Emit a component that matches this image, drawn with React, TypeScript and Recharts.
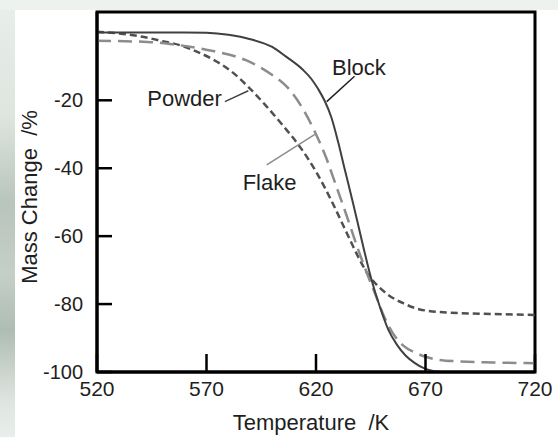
import {
  LineChart,
  Line,
  XAxis,
  YAxis,
  ReferenceArea,
  ReferenceLine,
  ReferenceDot,
} from "recharts";

// temperature (K) and mass change (%)
const blockTemp = [520, 560, 570, 580, 590, 600, 606, 614, 618, 621, 624, 627, 630, 633, 637, 641, 645, 649, 653, 657, 661, 665, 669, 673, 678];
const blockMass = [0, 0, -0.1, -0.7, -2, -4.3, -7, -11, -13.8, -16.7, -20.2, -25, -32, -40, -50.5, -61.5, -72, -80.5, -87.5, -92, -95.2, -97.3, -98.8, -99.6, -100];

const flakeTemp = [520, 543, 558, 573, 588, 599, 607, 614, 620, 625, 628, 634, 639, 643, 647, 651, 655, 660, 665, 670, 676, 686, 700, 720];
const flakeMass = [-2.5, -2.8, -3.8, -5.5, -8.2, -12.1, -16.2, -22.5, -30, -37.5, -43, -54, -63.5, -70.5, -77, -83.5, -88.5, -92.3, -94.2, -95.5, -96.4, -96.9, -97.2, -97.4];

const powderTemp = [520, 530, 540, 550, 558, 565, 573, 581, 589, 597, 605, 613, 620, 627, 634, 640, 644, 648, 653, 660, 667, 680, 700, 720];
const powderMass = [0.2, -0.3, -1.2, -2.6, -3.8, -5.5, -8, -11.3, -16, -21.5, -27.5, -34, -41, -49.5, -59, -67, -71.5, -74.5, -77.3, -79.8, -81.5, -82.5, -82.9, -83.2];

const xTicks = [520, 570, 620, 670, 720];
const yTicks = [-100, -80, -60, -40, -20];

const seriesLabels = [
  { name: "Block", temp: 639.6, mass: -10.2 },
  { name: "Powder", temp: 560, mass: -19.4 },
  { name: "Flake", temp: 598.8, mass: -44 },
];

const toPoints = (temps: number[], mass: number[]) =>
  temps.map((t, i) => ({ temp: t, mass: mass[i] }));

const FONT = "'Liberation Sans', Arial, sans-serif";

export default function App() {
  const block = toPoints(blockTemp, blockMass);
  const flake = toPoints(flakeTemp, flakeMass);
  const powder = toPoints(powderTemp, powderMass);

  return (
    <div
      style={{
        position: "absolute",
        left: 0,
        top: 0,
        width: 558,
        height: 437,
        overflow: "hidden",
        background: "#edf2ee",
        fontFamily: FONT,
      }}
    >
      {/* faded backdrop on the left edge */}
      <div
        style={{
          position: "absolute",
          left: 0,
          top: 10,
          width: 15,
          height: 427,
          background:
            "linear-gradient(180deg, #e8eeea 0%, #dde5df 25%, #b8c5bc 45%, #c4cfc7 62%, #aebdb3 75%, #dfe6e1 92%, #e8eee9 100%)",
        }}
      />
      <div style={{ position: "absolute", left: 15, top: 10, right: 0, bottom: 0, background: "#fff" }} />

      <div style={{ position: "absolute", left: 0, top: 0 }}>
        <LineChart width={558} height={437} margin={{ top: 12, right: 23, left: 0, bottom: 0 }}>
          <XAxis
            dataKey="temp"
            type="number"
            domain={[520, 720]}
            ticks={xTicks}
            interval={0}
            allowDataOverflow
            height={65}
            tickSize={-18}
            tickMargin={27}
            axisLine={{ stroke: "#000", strokeWidth: 3 }}
            tickLine={{ stroke: "#000", strokeWidth: 2.5 }}
            tick={{ fill: "#1e1e1e", fontSize: 21 }}
            label={{
              content: () => (
                <text x={311} y={430} textAnchor="middle" fill="#1e1e1e" fontSize={22}>
                  {"Temperature\u00a0\u00a0/K"}
                </text>
              ),
            }}
          />
          <YAxis
            type="number"
            domain={[-100, 6]}
            ticks={yTicks}
            interval={0}
            allowDataOverflow
            width={97}
            tickSize={-15}
            tickMargin={29}
            axisLine={{ stroke: "#000", strokeWidth: 3 }}
            tickLine={{ stroke: "#000", strokeWidth: 2.5 }}
            tick={{ fill: "#1e1e1e", fontSize: 20 }}
            label={{
              content: () => (
                <text
                  x={29}
                  y={197}
                  transform="rotate(-90 29 197)"
                  textAnchor="middle"
                  dominantBaseline="central"
                  fill="#1e1e1e"
                  fontSize={22}
                >
                  {"Mass Change\u00a0\u00a0/%"}
                </text>
              ),
            }}
          />
          <ReferenceArea
            x1={520}
            x2={720}
            y1={-100}
            y2={6}
            fill="none"
            fillOpacity={0}
            stroke="#000"
            strokeWidth={3}
          />

          <Line
            data={powder}
            dataKey="mass"
            type="monotone"
            stroke="#505050"
            strokeWidth={2.5}
            strokeDasharray="7 4"
            dot={false}
            isAnimationActive={false}
          />
          <Line
            data={flake}
            dataKey="mass"
            type="monotone"
            stroke="#8c8c8c"
            strokeWidth={2.5}
            strokeDasharray="14 7"
            dot={false}
            isAnimationActive={false}
          />
          <Line
            data={block}
            dataKey="mass"
            type="monotone"
            stroke="#404040"
            strokeWidth={2}
            dot={false}
            isAnimationActive={false}
          />

          {/* leader lines */}
          <ReferenceLine
            segment={[{ x: 637.6, y: -12.9 }, { x: 624.9, y: -20.4 }]}
            stroke="#222"
            strokeWidth={1.5}
          />
          <ReferenceLine
            segment={[{ x: 578.4, y: -20.4 }, { x: 589.1, y: -17.2 }]}
            stroke="#444"
            strokeWidth={1.5}
          />
          <ReferenceLine
            segment={[{ x: 597.5, y: -39 }, { x: 619.5, y: -30 }]}
            stroke="#8c8c8c"
            strokeWidth={1.5}
          />

          {seriesLabels.map((s) => (
            <ReferenceDot
              key={s.name}
              x={s.temp}
              y={s.mass}
              r={1}
              fill="none"
              stroke="none"
              label={{ value: s.name, position: "center", fill: "#1e1e1e", fontSize: 22 }}
            />
          ))}
        </LineChart>
      </div>
    </div>
  );
}
